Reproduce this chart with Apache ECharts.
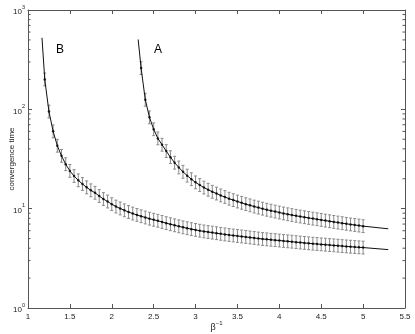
<!DOCTYPE html>
<html>
<head>
<meta charset="utf-8">
<script src="https://cdn.jsdelivr.net/npm/echarts@6/dist/echarts.min.js"></script>
<style>
  html, body { margin: 0; padding: 0; background: #fff; }
  #chart { width: 415px; height: 334px; }
</style>
</head>
<body>
<div id="chart"></div>
<script>
// sampled beta^-1 positions (error bar points are every 0.05)
const xStartB = 1.2
const xStartA = 2.35
const xStep = 0.05

// convergence time, curve B (1.20 .. 5.00)
const valuesB = [
  200, 95, 60, 43, 34, 28, 24, 21.3, 19.3, 17.7, 16.4, 15.3,
  14.45, 13.4, 12.5, 11.8, 11.1, 10.5, 10.05, 9.62, 9.25, 8.93,
  8.65, 8.39, 8.15, 7.93, 7.73, 7.55, 7.35, 7.15, 6.97, 6.8,
  6.64, 6.49, 6.35, 6.22, 6.11, 6.0, 5.9, 5.82, 5.74, 5.66,
  5.58, 5.51, 5.43, 5.37, 5.31, 5.25, 5.19, 5.13, 5.07, 5.01,
  4.95, 4.91, 4.86, 4.82, 4.78, 4.73, 4.69, 4.65, 4.6, 4.56,
  4.52, 4.48, 4.44, 4.41, 4.37, 4.34, 4.3, 4.27, 4.24, 4.2,
  4.17, 4.14, 4.11, 4.08, 4.06
]

// convergence time, curve A (2.35 .. 5.00)
const valuesA = [
  260, 125, 83, 63, 51, 44, 38, 33, 29, 26,
  23.5, 21.5, 19.8, 18.4, 17.3, 16.3, 15.5, 14.8, 14.2, 13.6,
  13.1, 12.6, 12.2, 11.8, 11.45, 11.1, 10.8, 10.5, 10.25, 10.0,
  9.75, 9.55, 9.35, 9.15, 8.95, 8.78, 8.62, 8.47, 8.33, 8.2,
  8.07, 7.94, 7.82, 7.7, 7.58, 7.47, 7.36, 7.25, 7.14, 7.04,
  6.94, 6.85, 6.76, 6.67
]

// fitted curve ends beyond the measured points
const fitStartB = [1.167, 525]
const fitEndB = [5.3, 3.87]
const fitStartA = [2.315, 505]
const fitEndA = [5.3, 6.27]

// error bars span value/errFactor .. value*errFactor
const errFactor = 1.16

const xTicks = [1, 1.5, 2, 2.5, 3, 3.5, 4, 4.5, 5, 5.5]
const decades = [1, 10, 100]
const minorMults = [2, 3, 4, 5, 6, 7, 8, 9]

const toPoints = (x0, vals) => vals.map((v, i) => [+(x0 + i * xStep).toFixed(2), v])
const pointsB = toPoints(xStartB, valuesB)
const pointsA = toPoints(xStartA, valuesA)
const errData = pts => pts.map(p => [p[0], p[1] / errFactor, p[1] * errFactor])

const minorTicks = []
decades.forEach(d => minorMults.forEach(m => minorTicks.push([m * d])))

const font = "'Liberation Sans', Arial, Helvetica, sans-serif"
const axisColor = '#555'

const errorBarItem = (params, api) => {
  const x = api.value(0)
  const p1 = api.coord([x, api.value(1)])
  const p2 = api.coord([x, api.value(2)])
  const w = 1.5
  const st = { stroke: '#8a8a8a', lineWidth: 1 }
  return {
    type: 'group',
    children: [
      { type: 'line', shape: { x1: p1[0], y1: p1[1], x2: p2[0], y2: p2[1] }, style: st },
      { type: 'line', shape: { x1: p1[0] - w, y1: p1[1], x2: p1[0] + w, y2: p1[1] }, style: st },
      { type: 'line', shape: { x1: p2[0] - w, y1: p2[1], x2: p2[0] + w, y2: p2[1] }, style: st },
    ],
  }
}

const minorTickItem = (params, api) => {
  const v = api.value(0)
  const l = api.coord([xTicks[0], v])
  const r = api.coord([xTicks[xTicks.length - 1], v])
  const st = { stroke: axisColor, lineWidth: 1 }
  return {
    type: 'group',
    children: [
      { type: 'line', shape: { x1: l[0], y1: l[1], x2: l[0] + 2.5, y2: l[1] }, style: st },
      { type: 'line', shape: { x1: r[0] - 2.5, y1: r[1], x2: r[0], y2: r[1] }, style: st },
    ],
  }
}

const chart = echarts.init(document.getElementById('chart'))

const xBase = {
  type: 'value',
  min: xTicks[0],
  max: xTicks[xTicks.length - 1],
  interval: 0.5,
  splitLine: { show: false },
  axisLine: { onZero: false, lineStyle: { color: axisColor, width: 1 } },
  axisTick: { inside: true, length: 4, lineStyle: { color: axisColor } },
}
const yBase = {
  type: 'log',
  logBase: 10,
  min: decades[0],
  max: 1000,
  splitLine: { show: false },
  axisLine: { show: true, onZero: false, lineStyle: { color: axisColor, width: 1 } },
  axisTick: { show: true, inside: true, length: 4, lineStyle: { color: axisColor } },
}

chart.setOption({
  animation: false,
  backgroundColor: '#fff',
  textStyle: { fontFamily: font },
  grid: { left: 28, right: 10, top: 10, bottom: 26, outerBoundsMode: 'none', containLabel: false },
  xAxis: [
    Object.assign({}, xBase, {
      position: 'bottom',
      name: '{b|β}{s|−1}',
      nameLocation: 'middle',
      nameGap: 12,
      nameMoveOverlap: false,
      nameTextStyle: {
        rich: {
          b: { fontSize: 9, color: '#222', fontFamily: font, verticalAlign: 'bottom', lineHeight: 12 },
          s: { fontSize: 6, color: '#222', fontFamily: font, verticalAlign: 'top', lineHeight: 12 },
        },
      },
      axisLabel: { fontSize: 8, color: '#222', margin: 5, fontFamily: font },
    }),
    Object.assign({}, xBase, { position: 'top', axisLabel: { show: false } }),
  ],
  yAxis: [
    Object.assign({}, yBase, {
      position: 'left',
      name: 'convergence time',
      nameLocation: 'middle',
      nameGap: 12,
      nameMoveOverlap: false,
      nameTextStyle: { fontSize: 8, color: '#222', fontFamily: font },
      axisLabel: {
        margin: 3,
        formatter: v => '{b|10}{s|' + Math.round(Math.log10(v)) + '}',
        rich: {
          b: { fontSize: 8, color: '#222', fontFamily: font, verticalAlign: 'bottom', lineHeight: 12 },
          s: { fontSize: 5.5, color: '#222', fontFamily: font, verticalAlign: 'top', lineHeight: 12 },
        },
      },
    }),
    Object.assign({}, yBase, { position: 'right', axisLabel: { show: false } }),
  ],
  graphic: [
    { type: 'text', x: 60, y: 50, style: { text: 'B', font: '12px ' + font, fill: '#000', align: 'center', verticalAlign: 'middle' } },
    { type: 'text', x: 158, y: 50, style: { text: 'A', font: '12px ' + font, fill: '#000', align: 'center', verticalAlign: 'middle' } },
  ],
  series: [
    {
      type: 'custom', name: 'minor ticks', renderItem: minorTickItem,
      data: minorTicks, encode: { y: 0 }, silent: true, z: 1,
    },
    {
      type: 'custom', name: 'B err', renderItem: errorBarItem,
      data: errData(pointsB), encode: { x: 0, y: [1, 2] }, silent: true, z: 2,
    },
    {
      type: 'custom', name: 'A err', renderItem: errorBarItem,
      data: errData(pointsA), encode: { x: 0, y: [1, 2] }, silent: true, z: 2,
    },
    {
      type: 'line', name: 'B fit', data: [fitStartB].concat(pointsB, [fitEndB]),
      showSymbol: false, lineStyle: { color: '#111', width: 1 }, z: 3,
    },
    {
      type: 'line', name: 'A fit', data: [fitStartA].concat(pointsA, [fitEndA]),
      showSymbol: false, lineStyle: { color: '#111', width: 1 }, z: 3,
    },
    {
      type: 'scatter', name: 'B', data: pointsB, symbolSize: 2.5,
      itemStyle: { color: '#000' }, z: 4,
    },
    {
      type: 'scatter', name: 'A', data: pointsA, symbolSize: 2.5,
      itemStyle: { color: '#000' }, z: 4,
    },
  ],
})
</script>
</body>
</html>
